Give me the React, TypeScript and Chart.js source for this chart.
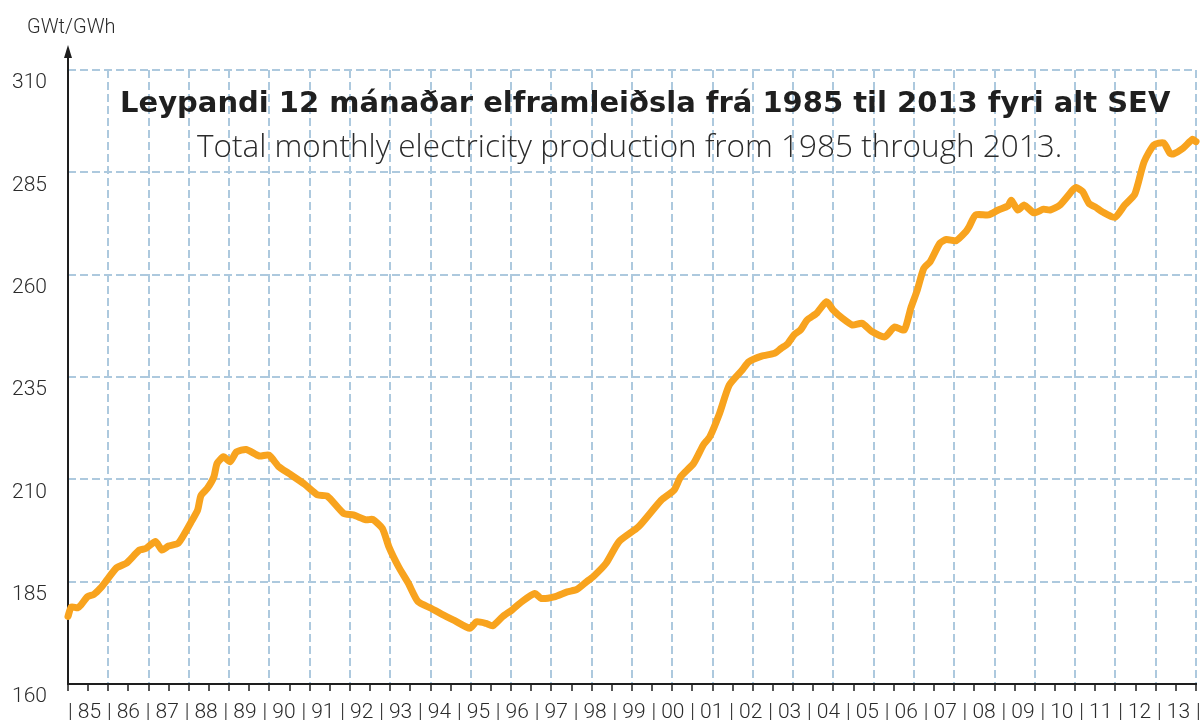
import React, { useEffect, useRef } from 'react';
import { Chart, registerables } from 'chart.js';

Chart.register(...registerables);

// Month index (0 = January 1985) and 12-month running production (GWh)
const monthIndex = [
  0, 1, 3, 4, 6, 8, 10, 12, 15, 18, 22, 24, 27, 29, 31, 34, 36, 38, 40, 41,
  43, 45, 46, 48, 50, 52, 55, 59, 62, 65, 68, 73, 77, 80, 85, 88, 92, 94, 97, 99,
  102, 105, 108, 112, 115, 119, 124, 126, 129, 131, 134, 137, 140, 144, 146, 150, 154, 157, 160, 162,
  166, 170, 176, 183, 187, 189, 193, 196, 198, 201, 204, 208, 210, 214, 218, 220, 222, 224, 226, 228,
  231, 234, 236, 239, 242, 245, 248, 252, 255, 258, 260, 262, 264, 266, 269, 271, 274, 277, 278, 280,
  284, 287, 290, 291, 293, 295, 298, 301, 303, 306, 310, 311, 313, 315, 317, 319, 323, 326, 329, 330,
  332, 335, 338, 340, 341, 344, 347, 348,
];
const production = [
  176.5, 178.8, 178.6, 179.3, 181.3, 181.9, 183.4, 185.4, 188.4, 189.5, 192.7, 193.1, 194.8, 192.7, 193.7, 194.4, 196.8, 199.6, 202.5, 206.0,
  207.8, 210.6, 213.9, 215.5, 214.3, 216.7, 217.3, 215.7, 215.9, 213.1, 211.5, 208.8, 206.2, 205.9, 201.7, 201.3, 200.1, 200.2, 198.0, 193.5,
  188.6, 184.6, 180.1, 178.5, 177.2, 175.6, 173.6, 175.2, 174.8, 174.2, 176.4, 178.1, 180.1, 182.1, 180.9, 181.3, 182.5, 183.1, 185.0, 186.2,
  189.5, 194.8, 198.4, 204.9, 207.4, 210.6, 213.9, 218.4, 220.4, 226.1, 233.0, 236.7, 238.7, 240.1, 240.8, 242.0, 243.1, 245.3, 246.5, 248.9,
  250.6, 253.4, 251.4, 249.3, 247.7, 248.1, 246.1, 244.8, 247.2, 246.5, 251.8, 256.2, 261.5, 263.2, 267.7, 268.6, 268.3, 270.5, 271.7, 274.6,
  274.6, 275.8, 276.8, 278.2, 275.8, 277.0, 275.1, 276.0, 275.8, 277.0, 280.7, 281.3, 280.3, 277.4, 276.5, 275.4, 274.0, 277.0, 279.5, 281.9,
  287.6, 291.7, 292.2, 289.6, 289.5, 290.9, 293.1, 292.5,
];
const yearLabels = [
  '85', '86', '87', '88', '89', '90', '91', '92', '93', '94', '95', '96', '97', '98', '99',
  '00', '01', '02', '03', '04', '05', '06', '07', '08', '09', '10', '11', '12', '13',
];
const yMin = 160;
const yMax = 310;
const yStep = 25;

const TOTAL_MONTHS = 348;
const GRID_INTERVALS = 28;

const TITLE = 'Leypandi 12 mánaðar elframleiðsla frá 1985 til 2013 fyri alt SEV';
const SUBTITLE = 'Total monthly electricity production from 1985 through 2013.';
const UNIT = 'GWt/GWh';

const GRID_BLUE = '#ADC9DE';
const AXIS_DARK = '#1e1e1e';
const LINE_ORANGE = '#F8A31E';
const TEXT_DARK = '#2b2b2b';
const FONT = "Roboto, 'Open Sans', sans-serif";

const axesPlugin = {
  id: 'axesPlugin',
  beforeDatasetsDraw(chart: any) {
    const { ctx, chartArea } = chart;
    const { left, right, bottom } = chartArea;
    ctx.save();
    ctx.strokeStyle = AXIS_DARK;
    ctx.fillStyle = AXIS_DARK;
    ctx.lineWidth = 2;
    ctx.setLineDash([]);
    // x axis
    ctx.beginPath();
    ctx.moveTo(left, bottom);
    ctx.lineTo(right + 1, bottom);
    ctx.stroke();
    // y axis with arrow
    const tipY = 45;
    ctx.beginPath();
    ctx.moveTo(left, bottom + 1);
    ctx.lineTo(left, tipY + 8);
    ctx.stroke();
    ctx.beginPath();
    ctx.moveTo(left, tipY);
    ctx.lineTo(left - 4, tipY + 13);
    ctx.lineTo(left + 4, tipY + 13);
    ctx.closePath();
    ctx.fill();
    ctx.restore();
  },
};

export default function App() {
  const canvasRef = useRef<HTMLCanvasElement | null>(null);

  useEffect(() => {
    if (!canvasRef.current) return;
    const points = monthIndex.map((m, i) => ({ x: m, y: production[i] }));
    const chart = new Chart(canvasRef.current, {
      type: 'line',
      data: {
        datasets: [
          {
            data: points,
            borderColor: LINE_ORANGE,
            borderWidth: 7,
            pointRadius: 0,
            tension: 0.2,
            borderCapStyle: 'round',
            borderJoinStyle: 'round',
            clip: 8,
          } as any,
        ],
      },
      options: {
        animation: false,
        responsive: true,
        maintainAspectRatio: false,
        layout: { padding: { top: 70, right: 5, bottom: 0, left: 0 } },
        plugins: {
          legend: { display: false },
          title: { display: false },
          tooltip: { enabled: false },
        },
        scales: {
          x: {
            type: 'linear',
            position: 'bottom',
            min: 0,
            max: TOTAL_MONTHS,
            afterBuildTicks: (scale: any) => {
              const n = GRID_INTERVALS * 2;
              scale.ticks = Array.from({ length: n + 1 }, (_, i) => ({ value: (i * TOTAL_MONTHS) / n }));
            },
            afterFit: (scale: any) => {
              scale.height = 10;
              scale.paddingLeft = 0;
              scale.paddingRight = 0;
            },
            ticks: { display: false },
            grid: {
              color: (c: any) => (c.index % 2 === 0 && c.index > 0 ? GRID_BLUE : 'rgba(0,0,0,0)'),
              lineWidth: 2,
              drawTicks: true,
              tickLength: 7,
              tickColor: AXIS_DARK,
              tickWidth: 1.5,
              tickBorderDash: [],
            },
            border: { display: false, dash: [8, 4] },
          },
          x2: {
            type: 'linear',
            position: 'bottom',
            min: 0,
            max: yearLabels.length,
            afterBuildTicks: (scale: any) => {
              scale.ticks = Array.from({ length: yearLabels.length + 1 }, (_, i) => ({ value: i }));
            },
            afterFit: (scale: any) => {
              scale.height = 28;
              scale.paddingLeft = 0;
              scale.paddingRight = 0;
            },
            ticks: {
              autoSkip: false,
              maxRotation: 0,
              minRotation: 0,
              align: 'start',
              padding: 6,
              color: TEXT_DARK,
              font: { family: FONT, size: 21, weight: '300' },
              callback: (_v: any, i: number) => (i < yearLabels.length ? '| ' + yearLabels[i] : '|'),
            },
            grid: { display: false, drawTicks: false },
            border: { display: false },
          },
          y: {
            type: 'linear',
            position: 'left',
            min: yMin,
            max: yMax,
            afterFit: (scale: any) => {
              scale.width = 68;
            },
            ticks: {
              stepSize: yStep,
              padding: 21,
              labelOffset: 13,
              color: TEXT_DARK,
              font: { family: FONT, size: 21, weight: '300' },
            },
            grid: {
              color: (c: any) => (c.index === 0 ? 'rgba(0,0,0,0)' : GRID_BLUE),
              lineWidth: 2,
              drawTicks: false,
            },
            border: { display: false, dash: [8, 4] },
          },
        },
      } as any,
      plugins: [axesPlugin],
    });
    return () => chart.destroy();
  }, []);

  const textBase: React.CSSProperties = {
    position: 'absolute',
    whiteSpace: 'nowrap',
    fontFamily: FONT,
    color: TEXT_DARK,
    lineHeight: 1,
    pointerEvents: 'none',
  };

  return (
    <div style={{ position: 'fixed', left: 0, top: 0, width: 1201, height: 722, background: '#fff' }}>
      <canvas ref={canvasRef} />
      <div style={{ ...textBase, left: 27, top: 16, fontSize: 20, fontWeight: 300 }}>{UNIT}</div>
      <div
        style={{
          ...textBase,
          left: 120,
          top: 88,
          fontSize: 29,
          fontWeight: 700,
          fontFamily: "'DejaVu Sans', sans-serif",
          color: '#1f1f1f',
        }}
      >
        {TITLE}
      </div>
      <div
        style={{
          ...textBase,
          left: 197,
          top: 129,
          fontSize: 31.5,
          fontWeight: 300,
          fontFamily: "'Open Sans', sans-serif",
        }}
      >
        {SUBTITLE}
      </div>
    </div>
  );
}
